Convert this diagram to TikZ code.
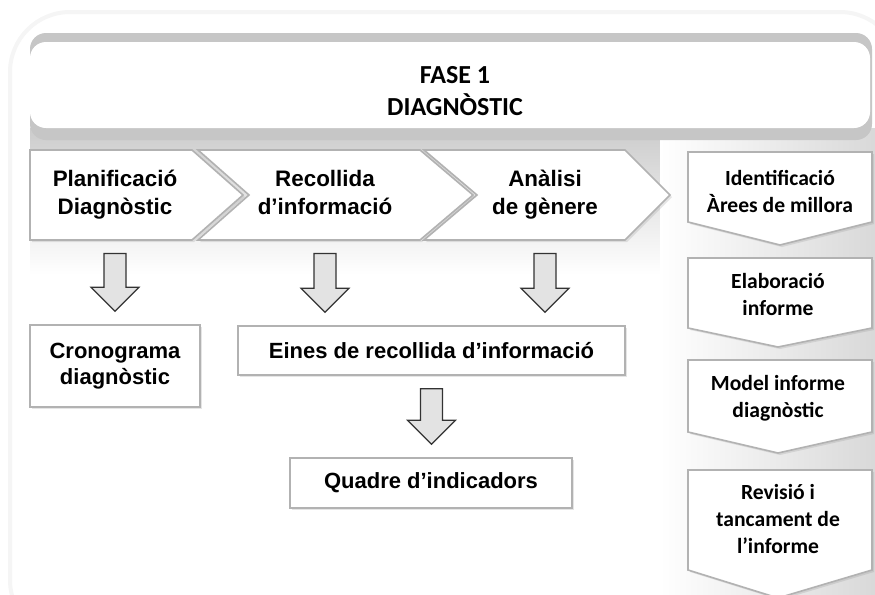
\documentclass[tikz,border=0pt]{standalone}
\usepackage{fontspec}
\usepackage{tikz}
\usetikzlibrary{calc,shadows,positioning}
\newfontfamily\arialf{Liberation Sans}
\newfontfamily\calif{Carlito}
\newcommand{\fletxa}[2]{%
  \draw[fill=gray!22,draw=black!80,line width=0.6pt,line join=miter] let \p1=(#1.south), \p2=(#2.north) in
  (\x1-5.5pt,\y1-6.5pt) -- (\x1+5.5pt,\y1-6.5pt) -- (\x1+5.5pt,\y2+18.5pt) -- (\x1+12pt,\y2+18.5pt)
  -- (\x1,\y2+6.5pt) -- (\x1-12pt,\y2+18.5pt) -- (\x1-5.5pt,\y2+18.5pt) -- cycle;}

\begin{document}
\begin{tikzpicture}[x=0.5pt,y=-0.5pt,
    forma/.style={fill=white,draw=gray!60,line width=0.8pt,drop shadow={opacity=0.2,shadow xshift=1pt,shadow yshift=-1pt}},
    caixa/.style={forma,rectangle,inner sep=0pt,font=\arialf\bfseries\fontsize{11}{13}\selectfont,align=center},
    etapa/.style={inner sep=0pt,minimum height=45pt,font=\arialf\bfseries\fontsize{11.2}{14}\selectfont,align=center},
    pas/.style={inner sep=0pt,font=\calif\bfseries\fontsize{10.8}{13.5}\selectfont,align=center}]
    \useasboundingbox (0,0) rectangle (875,595);
    % fons
    \draw[gray!8,line width=2pt,fill=white,rounded corners=30pt] (10,12) rectangle (900,640);
    \shade[top color=gray!40,bottom color=white] (30,128) rectangle (676,275);
    \shade[left color=white,right color=gray!30] (660,128) rectangle (875,595);
    \fill[gray!45,rounded corners=8pt] (30,33) rectangle (872,140);
    \fill[white,rounded corners=8pt] (30,42) rectangle (870,128);
    \node[font=\calif\bfseries\fontsize{13}{16}\selectfont,align=center] (FASE) at (455,91) {FASE 1\\DIAGNÒSTIC};

    % fletxes de fases
    \draw[forma] (30,150) -- (192,150) -- (243,195) -- (192,240) -- (30,240) -- cycle;
    \draw[forma] (198,150) -- (420,150) -- (473,195) -- (420,240) -- (198,240) -- (249,195) -- cycle;
    \draw[forma] (424,150) -- (625,150) -- (670,195) -- (625,240) -- (424,240) -- (477,195) -- cycle;
    \node[etapa] (PLAN) at (115,195) {\strut Planificació\\\strut Diagnòstic};
    \node[etapa] (RECOL) at (325,195) {\strut Recollida\\\strut d’informació};
    \node[etapa] (ANAL) at (545,195) {\strut Anàlisi\\\strut de gènere};

    % columna dreta
    \draw[forma] (688,152) -- (872,152) -- (872,222) -- (780,245) -- (688,222) -- cycle;
    \draw[forma] (688,258) -- (872,258) -- (872,328) -- (778,347) -- (688,328) -- cycle;
    \draw[forma] (688,360) -- (872,360) -- (872,432) -- (778,453) -- (688,432) -- cycle;
    \draw[forma] (688,470) -- (872,470) -- (872,570) -- (778,598) -- (688,570) -- cycle;
    \node[pas] (IDENT) at (780,194) {\strut Identificació\\\strut Àrees de millora};
    \node[pas] (ELAB) at (778,297) {\strut Elaboració\\\strut informe};
    \node[pas] (MODEL) at (778,399) {\strut Model informe\\\strut diagnòstic};
    \node[pas] (REVIS) at (778,521) {\strut Revisió i\\\strut tancament de\\\strut l’informe};

    % caixes
    \node[caixa,minimum width=85pt,minimum height=41pt] (CRONO) at (115,366) {\strut Cronograma\\\strut diagnòstic};
    \node[caixa,minimum width=193.5pt,minimum height=24.5pt] (EINES) at (431.5,350.5) {Eines de recollida d’informació};
    \node[caixa,minimum width=141pt,minimum height=25pt] (QUADRE) at (431,483) {Quadre d’indicadors};

    \fletxa{PLAN}{CRONO}
    \fletxa{RECOL}{EINES}
    \fletxa{ANAL}{EINES}
    \fletxa{EINES}{QUADRE}
\end{tikzpicture}
\end{document}
